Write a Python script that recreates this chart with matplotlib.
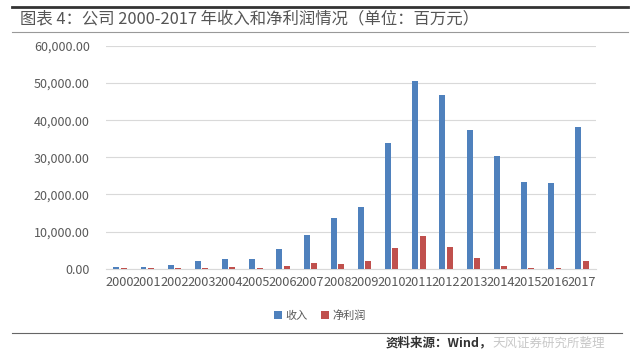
import numpy as np
import matplotlib.pyplot as plt
from matplotlib.lines import Line2D
from matplotlib.ticker import FuncFormatter

plt.rcParams['font.family'] = ['Noto Sans CJK SC', 'DejaVu Sans']

years = [str(y) for y in range(2000, 2018)]
# 收入 (百万元)
revenue = [450, 550, 1080, 2070, 2600, 2520, 5200, 9150, 13700, 16560,
           33980, 50700, 46840, 37320, 30390, 23380, 23200, 38300]
# 净利润 (百万元)
net_profit = [60, 80, 120, 300, 400, 250, 720, 1620, 1260, 2080,
              5580, 8730, 5770, 2970, 730, 100, 150, 2160]

blue = '#4f81bd'
red = '#c0504d'
grey = '#595959'

fig = plt.figure(figsize=(6.4, 3.56), dpi=100)
ax = fig.add_axes([106.4 / 640, 1 - 268.7 / 356, (595.6 - 106.4) / 640, (268.7 - 46) / 356])

x = np.arange(len(years))
w = 0.22
ax.bar(x - 0.135, revenue, width=w, color=blue, zorder=3, label='收入')
ax.bar(x + 0.135, net_profit, width=w, color=red, zorder=3, label='净利润')

ax.set_xlim(-0.5, len(years) - 0.5)
ax.set_ylim(0, 60000)
ax.set_yticks(np.arange(0, 60001, 10000))
ax.yaxis.set_major_formatter(FuncFormatter(lambda v, p: f'{v:,.2f}'))
ax.set_xticks(x)
ax.set_xticklabels(years)
ax.grid(axis='y', color='#d9d9d9', linewidth=0.8, zorder=0)
for s in ['left', 'right', 'top']:
    ax.spines[s].set_visible(False)
ax.spines['bottom'].set_color('#d9d9d9')
ax.tick_params(axis='y', length=0, pad=12, labelsize=9, labelcolor=grey)
ax.tick_params(axis='x', length=0, pad=5, labelsize=9.2, labelcolor=grey)

ax.legend(loc='upper center', bbox_to_anchor=(320 / 640, 1 - 300 / 356),
          bbox_transform=fig.transFigure, ncol=2, frameon=False, fontsize=8,
          handlelength=0.7, handleheight=0.7, handletextpad=0.3,
          columnspacing=1.2, labelcolor=grey)

# header and footer rules
fig.add_artist(Line2D([12 / 640, 628 / 640], [1 - 7 / 356, 1 - 7 / 356], color='#333333', linewidth=2))
fig.add_artist(Line2D([12 / 640, 628 / 640], [1 - 32 / 356, 1 - 32 / 356], color='#999999', linewidth=0.8))
fig.add_artist(Line2D([12 / 640, 622 / 640], [1 - 333 / 356, 1 - 333 / 356], color='#666666', linewidth=0.8))

fig.text(20 / 640, 1 - 19 / 356, '图表 4：公司 2000-2017 年收入和净利润情况（单位：百万元）',
         fontsize=11.8, color='#555555', va='center', ha='left')
fig.text(492 / 640, 1 - 343 / 356, '资料来源：Wind，', fontsize=9, color='#333333',
         fontweight='bold', style='italic', va='center', ha='right')
fig.text(492 / 640, 1 - 343 / 356, '天风证券研究所整理', fontsize=9, color='#c8c8c8',
         va='center', ha='left')

fig.savefig('out.png', dpi=100)
